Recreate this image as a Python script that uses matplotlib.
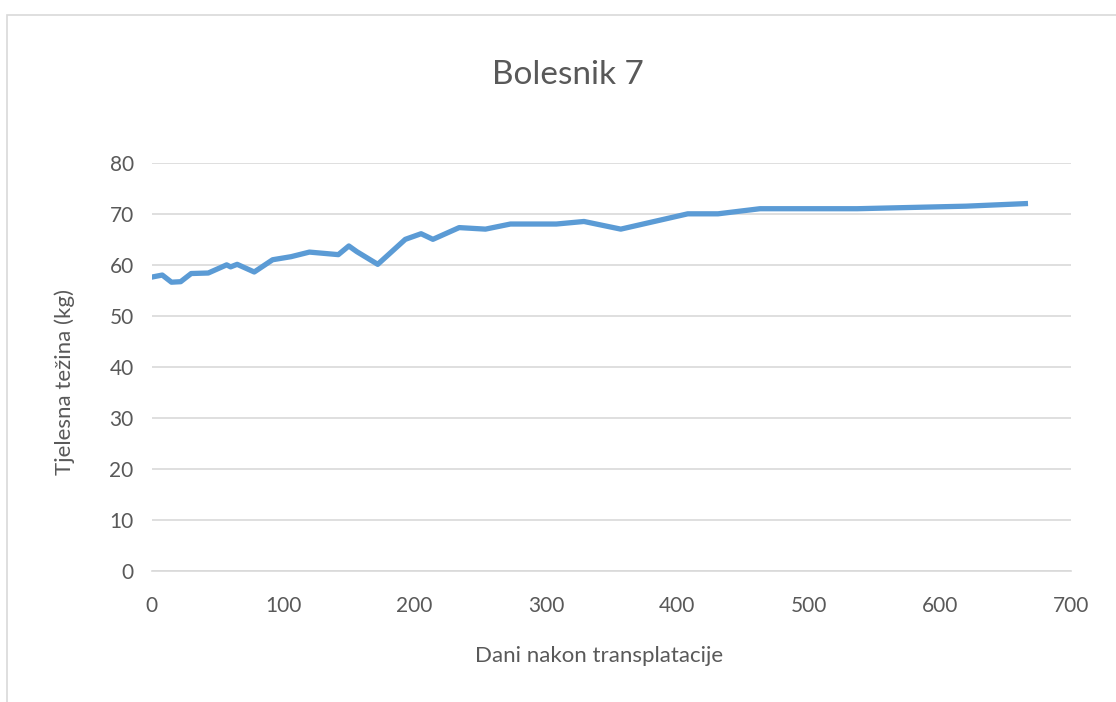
import matplotlib.pyplot as plt
from matplotlib.patches import Rectangle

# Days after transplantation and body weight (kg)
days = [0, 8, 15, 22, 30, 43, 57, 60, 65, 78, 92, 106, 120, 142, 150, 156,
        172, 193, 205, 214, 234, 254, 273, 308, 329, 357, 408, 431, 463, 537,
        620, 665]
weight = [57.6, 58, 56.6, 56.7, 58.3, 58.4, 60, 59.6, 60.1, 58.6, 61, 61.6,
          62.5, 62, 63.7, 62.6, 60.1, 65, 66.1, 65, 67.3, 67, 68, 68, 68.5,
          67, 70, 70, 71, 71, 71.5, 72]

plt.rcParams['font.family'] = ['Lato', 'DejaVu Sans']
grey = '#595959'

fig = plt.figure(figsize=(11.16, 7.02), dpi=100)
ax = fig.add_axes([0.136, 0.1866, 0.824, 0.5815])

# chart frame like the Excel chart area
fig.patches.append(Rectangle((7 / 1116, -0.1), 1.2, 1 - 15 / 702 + 0.1,
                             transform=fig.transFigure, fill=False,
                             edgecolor='#D9D9D9', linewidth=1.2))

ax.plot(days, weight, color='#5B9BD5', linewidth=3.8, solid_joinstyle='round')

ax.set_xlim(0, 700)
ax.set_ylim(0, 80)
ax.set_xticks(range(0, 701, 100))
ax.set_yticks(range(0, 81, 10))
ax.grid(axis='y', color='#D9D9D9', linewidth=1.2)
ax.set_axisbelow(True)
for s in ['top', 'right', 'left']:
    ax.spines[s].set_visible(False)
ax.spines['bottom'].set_color('#D9D9D9')
ax.spines['bottom'].set_linewidth(1.2)
ax.tick_params(length=0, labelsize=15, colors=grey)
ax.tick_params(axis='y', pad=13)
ax.tick_params(axis='x', pad=18)

fig.text(568 / 1116, 1 - 75 / 702, 'Bolesnik 7', fontsize=24, color=grey,
         ha='center', va='center')
fig.text(599 / 1116, 1 - 656 / 702, 'Dani nakon transplatacije', fontsize=16,
         color=grey, ha='center', va='center')
fig.text(65 / 1116, 1 - 382 / 702, 'Tjelesna težina (kg)', fontsize=16,
         color=grey, ha='center', va='center', rotation=90)

fig.savefig('out.png', dpi=100)
